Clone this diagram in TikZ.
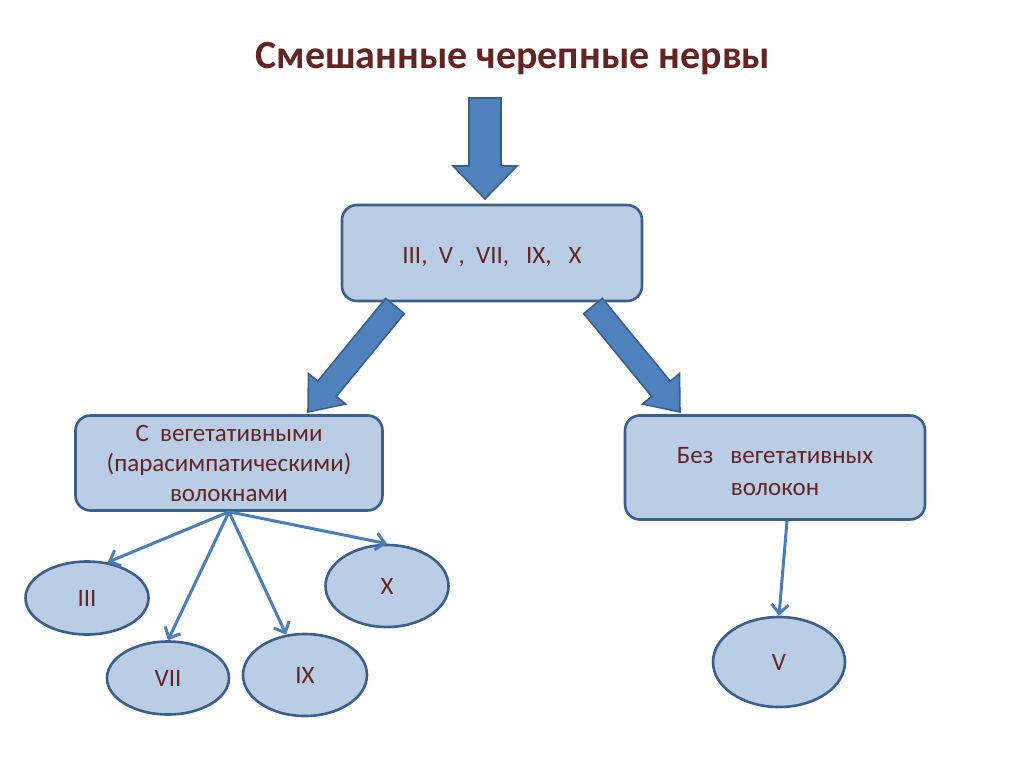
\documentclass[tikz,border=0pt]{standalone}
\usepackage{fontspec}
\setmainfont{Carlito}
\usetikzlibrary{shapes.geometric, arrows.meta, calc}

\definecolor{boxfill}{HTML}{B9CDE5}
\definecolor{boxline}{HTML}{3A5F8C}
\definecolor{nervetext}{HTML}{632523}
\definecolor{bigfill}{HTML}{4F81BD}
\definecolor{thinline}{HTML}{4A7EBB}

% block arrow: start, tip, half shaft, half head, head length
\newcommand{\blockarrow}[5]{%
  \coordinate (hb) at ($(#2)!#5!(#1)$);
  \filldraw[bigarrow] ($(#1)!#3!90:(#2)$) -- ($(hb)!#3!90:(#2)$) -- ($(hb)!#4!90:(#2)$)
    -- (#2) -- ($(hb)!#4!-90:(#2)$) -- ($(hb)!#3!-90:(#2)$) -- ($(#1)!#3!-90:(#2)$) -- cycle;
}

\begin{document}
\begin{tikzpicture}[x=1pt, y=-1pt,
    group/.style={rectangle, rounded corners=15pt, draw=boxline, fill=boxfill, line width=2.6pt,
      minimum width=300pt, minimum height=96pt, align=center, text=nervetext,
      font=\fontsize{25}{30}\selectfont},
    nerve/.style={ellipse, draw=boxline, fill=boxfill, line width=2.6pt, inner sep=0pt,
      text=nervetext, font=\fontsize{25}{30}\selectfont},
    bigarrow/.style={fill=bigfill, draw=boxline, line width=1.6pt, line join=miter},
    branch/.style={draw=thinline, line width=3pt, -{Straight Barb[length=9pt, width=17pt]}}
]
\useasboundingbox (0,0) rectangle (1024,767);

% Title
\node[text=nervetext, font=\fontsize{40}{48}\selectfont\bfseries] (title) at (513,59) {Смешанные черепные нервы};

% Boxes
\node[group] (all) at (492,253) {\rule{0pt}{24pt}III,\ \ V\ ,\ \ VII,\ \ \ IX,\ \ \ X};
\node[group, minimum width=307pt, minimum height=95pt] (veg) at (229,463) {С\ \ вегетативными\\(парасимпатическими)\\волокнами};
\node[group, minimum height=104pt] (noveg) at (775,467.5) {\rule{0pt}{25pt}Без\ \ \ вегетативных\\[2pt]волокон};

% Nerves
\node[nerve, minimum width=123pt, minimum height=73pt] (n3) at (87,598) {III};
\node[nerve, minimum width=122pt, minimum height=73pt] (n7) at (168,678) {VII};
\node[nerve, minimum width=124pt, minimum height=82pt] (n9) at (305,675) {IX};
\node[nerve, minimum width=123pt, minimum height=82pt] (n10) at (387,586) {X};
\node[nerve, minimum width=132pt, minimum height=90pt] (n5) at (779,662) {V};

% Block arrows
\coordinate (downstart) at (485,98);
\coordinate (downtip) at (485,199);
\coordinate (leftstart) at (395,306);
\coordinate (lefttip) at (308,412);
\coordinate (rightstart) at (593,306);
\coordinate (righttip) at (680,412);
\blockarrow{downstart}{downtip}{16pt}{32pt}{33pt}
\blockarrow{leftstart}{lefttip}{12pt}{24pt}{30pt}
\blockarrow{rightstart}{righttip}{12pt}{24pt}{30pt}

% Branches
\draw[branch] (veg.south) -- (n3.60);
\draw[branch] (veg.south) -- (n7.north);
\draw[branch] (veg.south) -- (n9.115);
\draw[branch] (veg.south) -- (n10.north);
\draw[branch] ([xshift=12pt]noveg.south) -- (n5.north);

\end{tikzpicture}
\end{document}
